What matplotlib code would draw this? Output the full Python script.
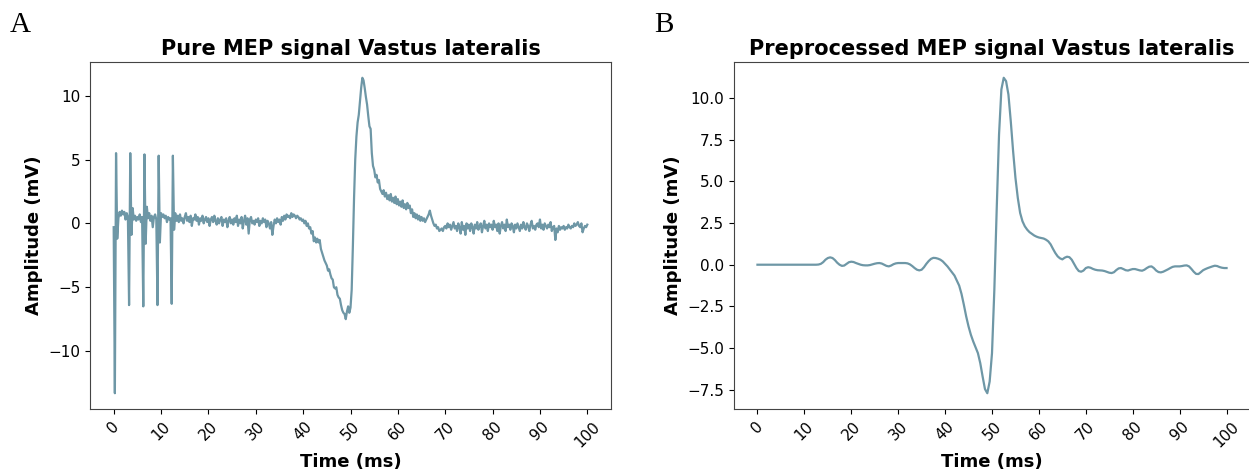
import numpy as np
import matplotlib
matplotlib.use("Agg")
import matplotlib.pyplot as plt

# raw MEP recording, sampled every 0.25 ms from 0 to 100 ms
pure_amp = [
    -0.3, -13.3, 5.5, -1.2, 0.4, 0.9, 0.6, 1.0, 0.7, 0.9, 0.3, 0.8, 0.5, -6.4, 5.5, -0.9, 1.2, 0.3, 0.6, 0.2,
    0.5, 0.3, 0.7, 0.1, 0.5, -6.5, 5.4, -1.6, 1.3, 0.4, 0.8, 0.2, 0.6, -0.3, 0.5, 0.7, 0.3, -6.4, 5.3, -1.5,
    0.8, 0.5, 0.7, 0.4, 0.6, 0.1, 0.5, 0.3, 0.4, -6.3, 5.3, -0.5, 0.8, 0.2, 0.6, 0.1, 0.7, 0.2, 0.4, 0.0,
    0.5, 0.8, 0.2, 0.5, 0.1, 0.6, -0.2, 0.4, 0.3, 0.7, 0.2, 0.5, -0.1, 0.4, 0.2, 0.6, 0.0, 0.3, 0.5, 0.1,
    0.4, -0.2, 0.3, 0.5, 0.1, 0.6, 0.2, -0.1, 0.4, 0.0, 0.3, 0.5, -0.2, 0.3, 0.1, 0.4, -0.3, 0.2, 0.5, 0.0,
    0.3, -0.1, 0.4, 0.1, 0.6, -0.2, 0.3, 0.0, 0.5, -0.4, 0.2, 0.6, -0.1, 0.4, -0.8, 0.3, 0.5, 0.0, 0.2, -0.1,
    0.3, 0.1, 0.4, -0.2, 0.2, 0.0, 0.4, 0.1, 0.3, -0.3, 0.2, 0.0, -0.4, 0.1, -0.9, -0.2, 0.3, 0.0, 0.4, 0.1,
    0.3, -0.1, 0.5, 0.2, 0.6, 0.3, 0.7, 0.5, 0.6, 0.4, 0.8, 0.5, 0.7, 0.6, 0.4, 0.6, 0.5, 0.3, 0.4, 0.2,
    0.3, 0.0, 0.2, -0.2, 0.0, -0.4, -0.3, -0.8, -0.6, -1.4, -1.1, -1.5, -1.2, -1.5, -1.3, -2.0, -2.3, -2.6, -2.9, -3.1,
    -3.3, -3.7, -3.6, -4.0, -4.3, -4.4, -5.0, -5.1, -5.0, -5.6, -5.8, -5.9, -6.4, -6.8, -7.0, -7.1, -7.5, -6.9, -6.5, -7.0,
    -6.6, -5.2, -1.8, 2.0, 5.0, 6.8, 7.9, 8.5, 9.6, 10.6, 11.4, 11.2, 10.6, 9.9, 9.3, 8.4, 7.6, 7.4, 5.5, 4.5,
    4.2, 3.6, 3.8, 3.2, 3.4, 2.7, 2.5, 2.3, 2.6, 2.1, 2.4, 1.9, 2.2, 1.8, 2.3, 1.7, 2.0, 1.6, 2.1, 1.5,
    1.9, 1.4, 1.7, 1.3, 1.8, 1.2, 1.5, 1.1, 1.6, 1.2, 1.4, 0.8, 1.1, 0.5, 0.8, 0.4, 0.7, 0.3, 0.6, 0.2,
    0.5, 0.2, 0.4, 0.1, 0.3, 0.5, 0.7, 1.0, 0.6, 0.3, 0.0, -0.2, -0.1, -0.4, -0.3, -0.6, -0.5, -0.4, -0.6, -0.3,
    -0.2, -0.4, 0.0, -0.3, -0.1, -0.5, -0.2, 0.1, -0.4, -0.2, -0.6, 0.0, -0.3, -0.8, 0.1, -0.5, -0.2, -0.9, 0.0, -0.4,
    -0.1, -0.6, 0.0, -0.3, -0.8, -0.1, -0.4, 0.1, -0.5, -0.2, 0.0, -0.7, -0.2, 0.2, -0.4, -0.1, -0.6, 0.0, -0.3, -0.1,
    -0.5, 0.2, -0.3, -0.1, -0.6, 0.0, -0.8, -0.2, 0.1, -0.4, -0.1, -0.6, 0.3, -0.3, -0.1, -0.5, 0.0, -0.2, -0.7, -0.1,
    -0.4, 0.0, -0.3, -0.6, -0.1, -0.4, 0.1, -0.3, -0.5, 0.0, -0.2, -0.6, -0.1, 0.2, -0.4, -0.2, -0.5, -0.1, 0.0, -0.3,
    0.3, -0.4, -0.1, -0.5, 0.0, -0.2, -0.4, -0.1, -0.3, 0.1, -0.6, -0.3, -0.2, -1.3, -0.4, -0.7, -0.2, -0.5, -0.3, -0.4,
    -0.2, -0.5, -0.3, -0.4, -0.1, -0.3, -0.4, -0.2, -0.3, 0.0, -0.2, -0.1, 0.1, -0.2, -0.3, 0.0, -0.7, -0.4, -0.2, -0.3,
    -0.1,
]

# filtered MEP, sampled every 0.5 ms from 0 to 100 ms
prep_amp = [
    0, 0, 0, 0, 0, 0, 0, 0, 0, 0, 0, 0, 0, 0, 0, 0, 0, 0, 0, 0,
    0, 0, 0, 0, 0, 0, 0.01, 0.05, 0.15, 0.3, 0.4, 0.44, 0.4, 0.28, 0.12, 0.0, -0.07, -0.05, 0.05, 0.15,
    0.18, 0.16, 0.1, 0.05, 0.0, -0.03, -0.04, -0.04, -0.02, 0.02, 0.06, 0.09, 0.1, 0.07, 0.0, -0.07, -0.1, -0.05, 0.03, 0.08,
    0.1, 0.1, 0.1, 0.1, 0.08, 0.02, -0.08, -0.2, -0.3, -0.34, -0.3, -0.15, 0.05, 0.22, 0.35, 0.41, 0.4, 0.36, 0.3, 0.2,
    0.05, -0.1, -0.28, -0.45, -0.65, -0.95, -1.25, -1.75, -2.4, -3.1, -3.7, -4.2, -4.6, -4.95, -5.3, -5.9, -6.7, -7.45, -7.7, -7.0,
    -5.3, -1.5, 3.3, 7.8, 10.5, 11.2, 11.0, 10.2, 8.6, 6.8, 5.2, 4.0, 3.1, 2.6, 2.3, 2.1, 1.95, 1.85, 1.75, 1.68,
    1.63, 1.6, 1.57, 1.5, 1.4, 1.22, 0.95, 0.7, 0.5, 0.38, 0.32, 0.42, 0.48, 0.45, 0.3, 0.05, -0.2, -0.38, -0.42, -0.35,
    -0.2, -0.15, -0.18, -0.25, -0.3, -0.33, -0.34, -0.35, -0.38, -0.43, -0.48, -0.5, -0.45, -0.32, -0.22, -0.2, -0.26, -0.33, -0.35, -0.3,
    -0.26, -0.26, -0.3, -0.34, -0.36, -0.3, -0.2, -0.12, -0.1, -0.2, -0.35, -0.44, -0.46, -0.42, -0.35, -0.28, -0.2, -0.13, -0.1, -0.1,
    -0.1, -0.08, -0.05, -0.04, -0.1, -0.25, -0.42, -0.55, -0.56, -0.45, -0.33, -0.26, -0.2, -0.15, -0.1, -0.06, -0.08, -0.14, -0.18, -0.2,
    -0.2,
]

time_ticks = list(range(0, 101, 10))
titles = ["Pure MEP signal Vastus lateralis", "Preprocessed MEP signal Vastus lateralis"]
panel_letters = ["A", "B"]

line_color = "#6e97a6"

fig = plt.figure(figsize=(12.49, 4.72), dpi=100)
ax1 = fig.add_axes([90 / 1249, 63 / 472, 521 / 1249, 347 / 472])
ax2 = fig.add_axes([734 / 1249, 63 / 472, 516 / 1249, 347 / 472])

t_pure = np.linspace(0, 100, len(pure_amp))
t_prep = np.linspace(0, 100, len(prep_amp))

ax1.plot(t_pure, pure_amp, color=line_color, linewidth=1.6)
ax2.plot(t_prep, prep_amp, color=line_color, linewidth=1.6)

for ax, title in zip([ax1, ax2], titles):
    ax.set_title(title, fontsize=15, fontweight="bold", pad=5)
    ax.set_xlabel("Time (ms)", fontsize=13, fontweight="bold", labelpad=2)
    ax.set_ylabel("Amplitude (mV)", fontsize=13, fontweight="bold")
    ax.set_xticks(time_ticks)
    ax.tick_params(axis="x", labelrotation=45, labelsize=11)
    ax.tick_params(axis="y", labelsize=11)
    for s in ax.spines.values():
        s.set_color("#444444")

fig.text(0.008, 0.975, panel_letters[0], fontsize=21, family="Liberation Serif", va="top")
fig.text(0.524, 0.975, panel_letters[1], fontsize=21, family="Liberation Serif", va="top")

fig.savefig("out.png", dpi=100)
